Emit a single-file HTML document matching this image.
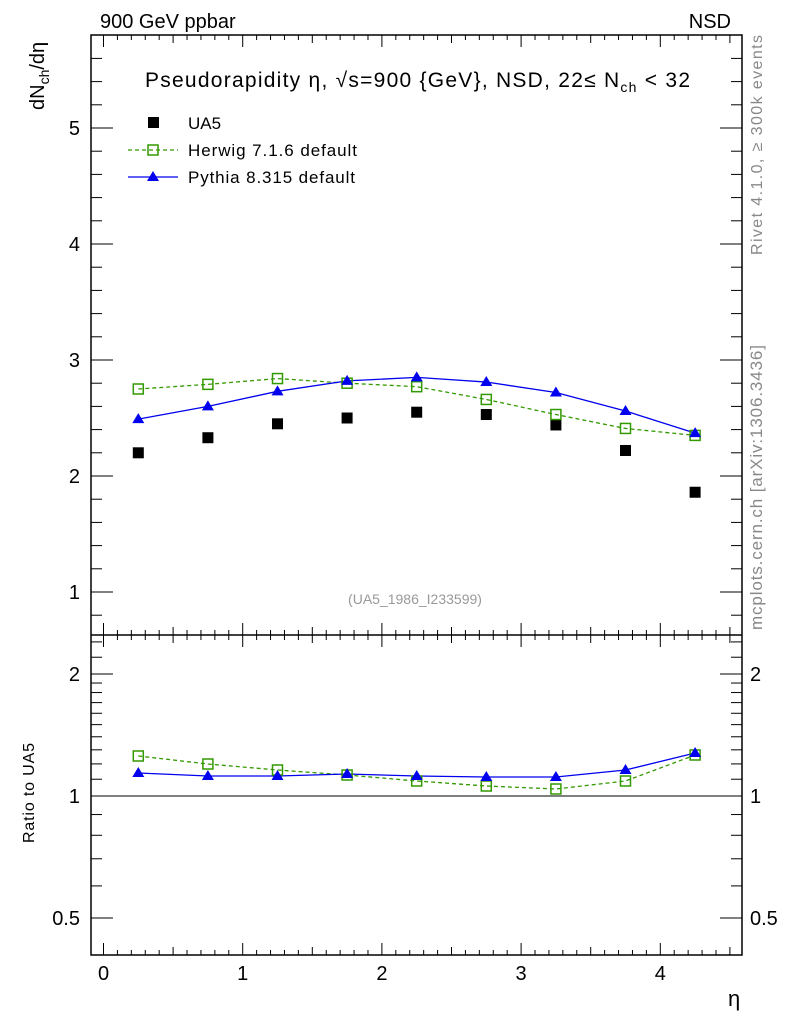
<!DOCTYPE html>
<html><head><meta charset="utf-8"><style>
html,body{margin:0;padding:0;background:#fff;}
svg{display:block;font-family:"Liberation Sans",sans-serif;}
</style></head><body>
<svg id="s" width="786" height="1024" xmlns="http://www.w3.org/2000/svg">
<rect width="786" height="1024" fill="#fff"/>
<text x="100" y="28" font-size="20">900 GeV ppbar</text>
<text x="731" y="28" font-size="20" text-anchor="end">NSD</text>
<text x="145" y="87" font-size="21" textLength="545" lengthAdjust="spacing">Pseudorapidity η, √s=900 {GeV}, NSD, 22≤ N<tspan font-size="14" dy="5">ch</tspan><tspan dy="-5"> &lt; 32</tspan></text>
<text transform="translate(44,110) rotate(-90)" font-size="20">dN<tspan font-size="14" dy="5">ch</tspan><tspan dy="-5">/dη</tspan></text>
<text transform="translate(34,843) rotate(-90)" font-size="16" textLength="100" lengthAdjust="spacing">Ratio to UA5</text>
<text transform="translate(762,255) rotate(-90)" font-size="16" fill="#888" textLength="220" lengthAdjust="spacing">Rivet 4.1.0, ≥ 300k events</text>
<text transform="translate(762,630) rotate(-90)" font-size="17" fill="#888" textLength="285" lengthAdjust="spacing">mcplots.cern.ch [arXiv:1306.3436]</text>
<text x="415" y="604" font-size="14" fill="#999" text-anchor="middle">(UA5_1986_I233599)</text>
<text x="728" y="1006" font-size="22">η</text>
<rect x="148" y="117" width="11" height="11" fill="#000"/>
<text x="188" y="129" font-size="17">UA5</text>
<line x1="128" y1="150" x2="178" y2="150" stroke="#339900" stroke-width="1.3" stroke-dasharray="4,3"/>
<rect x="148" y="145" width="10" height="10" fill="none" stroke="#339900" stroke-width="1.5"/>
<text x="188" y="156" font-size="17" textLength="169" lengthAdjust="spacing">Herwig 7.1.6 default</text>
<line x1="128" y1="177" x2="178" y2="177" stroke="#0000ee" stroke-width="1.3"/>
<polygon points="153,171 159,181 147,181" fill="#0000ee"/>
<text x="188" y="183" font-size="17" textLength="167" lengthAdjust="spacing">Pythia 8.315 default</text>
<g id="g"></g>
</svg>
<script>
var g=document.getElementById('g'),NS='http://www.w3.org/2000/svg';
function el(t,a,txt){var e=document.createElementNS(NS,t);for(var k in a)e.setAttribute(k,a[k]);if(txt)e.textContent=txt;g.appendChild(e);return e;}
var L=91,R=742,T=35,M=635,B=955;
function X(v){return 103.5+v*139.2;}
function Y(v){return 592-(v-1)*116;}
function YR(v){return 796-Math.log2(v)*122;}
el('rect',{x:L,y:T,width:R-L,height:B-T,fill:'none',stroke:'#000','stroke-width':1.5});
el('line',{x1:L,y1:M,x2:R,y2:M,stroke:'#000','stroke-width':1.5});
el('line',{x1:L,y1:796,x2:R,y2:796,stroke:'#000','stroke-width':1});
for(var i=0;i<=45;i++){var x=X(i/10);if(x>R)break;var len=(i%10==0)?12:(i%5==0?8:5);
 el('line',{x1:x,y1:B,x2:x,y2:B-len,stroke:'#000'});
 el('line',{x1:x,y1:T,x2:x,y2:T+len,stroke:'#000'});
 el('line',{x1:x,y1:M-len,x2:x,y2:M+len,stroke:'#000'});
 if(i%10==0)el('text',{x:x,y:980,'font-size':20,'text-anchor':'middle'},''+i/10);}
for(var v=0.8;v<=5.8;v+=0.2){var y=Y(v);if(y<T||y>M)continue;var mj=Math.abs(v-Math.round(v))<0.01;var len=mj?22:11;
 el('line',{x1:L,y1:y,x2:L+len,y2:y,stroke:'#000'});el('line',{x1:R,y1:y,x2:R-len,y2:y,stroke:'#000'});
 if(mj)el('text',{x:80,y:y+7,'font-size':20,'text-anchor':'end'},''+Math.round(v));}
var rt=[0.4,0.5,0.6,0.7,0.8,0.9,1,1.1,1.2,1.3,1.4,1.5,1.6,1.7,1.8,1.9,2,2.2,2.4];
rt.forEach(function(v){var y=YR(v);if(y<M||y>B)return;var mj=(v==0.5||v==1||v==2);var len=mj?22:11;
 el('line',{x1:L,y1:y,x2:L+len,y2:y,stroke:'#000'});el('line',{x1:R,y1:y,x2:R-len,y2:y,stroke:'#000'});
 if(mj){el('text',{x:80,y:y+7,'font-size':20,'text-anchor':'end'},''+v);el('text',{x:750,y:y+7,'font-size':20},''+v);}});
var xs=[0.25,0.75,1.25,1.75,2.25,2.75,3.25,3.75,4.25];
var ua=[2.20,2.33,2.45,2.50,2.55,2.53,2.44,2.22,1.86];
var hw=[2.75,2.79,2.84,2.80,2.77,2.66,2.53,2.41,2.35];
var py=[2.49,2.60,2.73,2.82,2.85,2.81,2.72,2.56,2.37];
var hr=[756,764,770,775,781,786,789,781,755];
var pr=[773,776,776,774,776,777,777,770,753];
function line(ys,col,dash){var p=xs.map(function(x,i){return X(x)+','+ys[i];}).join(' ');var a={points:p,fill:'none',stroke:col,'stroke-width':1.3};if(dash)a['stroke-dasharray']='4,3';el('polyline',a);}
var hy=hw.map(Y),pyy=py.map(Y);
line(hy,'#339900',1);line(pyy,'#0000ee',0);line(hr,'#339900',1);line(pr,'#0000ee',0);
xs.forEach(function(x,i){var px=X(x);
 el('rect',{x:px-5.5,y:Y(ua[i])-5.5,width:11,height:11,fill:'#000'});
 [hy[i],hr[i]].forEach(function(y){el('rect',{x:px-5,y:y-5,width:10,height:10,fill:'none',stroke:'#339900','stroke-width':1.5});});
 [pyy[i],pr[i]].forEach(function(y){el('polygon',{points:(px)+','+(y-6)+' '+(px+6)+','+(y+4)+' '+(px-6)+','+(y+4),fill:'#0000ee'});});
});
</script>
</body></html>
